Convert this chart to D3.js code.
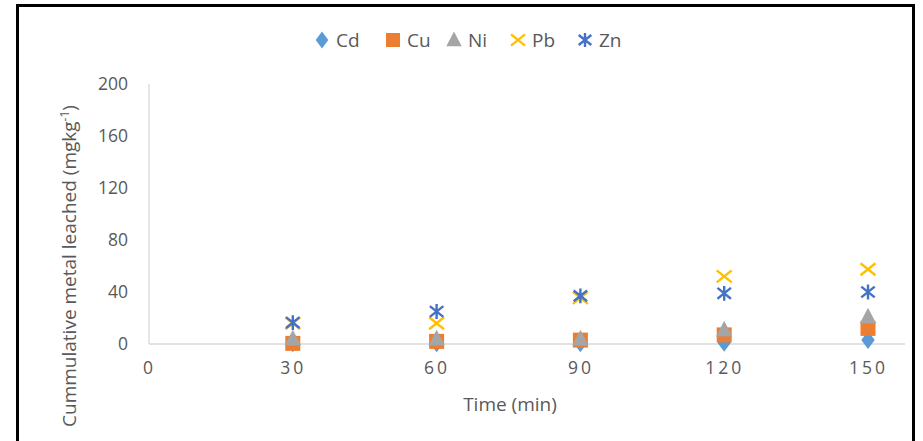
<!DOCTYPE html>
<html>
<head>
<meta charset="utf-8">
<script src="https://cdn.jsdelivr.net/npm/d3@7"></script>
<style>
  html, body { margin: 0; padding: 0; background: #fff; }
  svg { display: block; }
  text { font-family: "Open Sans", "DejaVu Sans", sans-serif; }
</style>
</head>
<body>
<svg id="chart" width="923" height="441"></svg>
<script>
// Leaching time points (min)
const times = [30, 60, 90, 120, 150];
// Cumulative metal leached (mg/kg) for each metal
const cd = [0.5, 0.5, 0.5, 1, 3];
const cu = [0.5, 2, 3, 7, 12];
const ni = [4, 4, 4, 11, 21];
const pb = [16, 16, 35.5, 52, 57.5];
const zn = [16.5, 25, 37, 39, 40];

const seriesNames = ["Cd", "Cu", "Ni", "Pb", "Zn"];
const seriesValues = [cd, cu, ni, pb, zn];
const seriesColors = ["#5B9BD5", "#ED7D31", "#A5A5A5", "#FFC000", "#4472C4"];
const xTicks = [0, 30, 60, 90, 120, 150];
const yTicks = [0, 40, 80, 120, 160, 200];

const svg = d3.select("#chart");

// Outer frame
svg.append("rect")
  .attr("x", 17.5).attr("y", 5.5)
  .attr("width", 896).attr("height", 450)
  .attr("fill", "#fff").attr("stroke", "#000").attr("stroke-width", 3);

const x = d3.scaleLinear().domain([0, 150]).range([149, 868]);
const y = d3.scaleLinear().domain([0, 200]).range([344, 84]);

// Axis lines
svg.append("line")
  .attr("x1", x(0)).attr("x2", 905)
  .attr("y1", y(0)).attr("y2", y(0))
  .attr("stroke", "#d9d9d9").attr("stroke-width", 1.3);
svg.append("line")
  .attr("x1", x(0)).attr("x2", x(0))
  .attr("y1", y(200)).attr("y2", y(0))
  .attr("stroke", "#d9d9d9").attr("stroke-width", 1.3);

// Y tick labels
const yAxis = d3.axisLeft(y).tickValues(yTicks).tickSize(0).tickPadding(0);
const gy = svg.append("g").attr("transform", "translate(128,0)").call(yAxis);
gy.select(".domain").remove();
gy.selectAll("text")
  .attr("fill", "#595959").attr("font-size", 17.5)
  .style("font-family", "'Open Sans', 'DejaVu Sans', sans-serif");

// X tick labels
const xAxis = d3.axisBottom(x).tickValues(xTicks).tickSize(0).tickPadding(0);
const gx = svg.append("g").attr("transform", "translate(0,362)").call(xAxis);
gx.select(".domain").remove();
gx.selectAll("text")
  .attr("fill", "#595959").attr("font-size", 17.5)
  .attr("letter-spacing", 3)
  .style("font-family", "'Open Sans', 'DejaVu Sans', sans-serif");

// Axis titles
svg.append("text")
  .attr("x", 510).attr("y", 411)
  .attr("text-anchor", "middle")
  .attr("fill", "#595959").attr("font-size", 19)
  .text("Time (min)");

const yTitle = svg.append("text")
  .attr("transform", "translate(76,266) rotate(-90)")
  .attr("text-anchor", "middle")
  .attr("fill", "#595959").attr("font-size", 19);
yTitle.append("tspan").text("Cummulative metal leached (mgkg");
yTitle.append("tspan").attr("font-size", 12).attr("dy", -7).text("-1");
yTitle.append("tspan").attr("dy", 7).text(")");

// Marker shapes
function drawMarker(g, i, cx, cy, s) {
  const c = seriesColors[i];
  if (i === 0) {
    g.append("path")
      .attr("d", `M${cx},${cy - s * 0.6}L${cx + s * 0.45},${cy}L${cx},${cy + s * 0.6}L${cx - s * 0.45},${cy}Z`)
      .attr("fill", c);
  } else if (i === 1) {
    g.append("rect")
      .attr("x", cx - s / 2).attr("y", cy - s / 2)
      .attr("width", s).attr("height", s).attr("fill", c);
  } else if (i === 2) {
    g.append("path")
      .attr("d", `M${cx},${cy - s * 0.6}L${cx + s * 0.55},${cy + s * 0.45}L${cx - s * 0.55},${cy + s * 0.45}Z`)
      .attr("fill", c);
  } else if (i === 3) {
    const h = s * 0.5;
    g.append("path")
      .attr("d", `M${cx - h},${cy - h * 0.8}L${cx + h},${cy + h * 0.8}M${cx + h},${cy - h * 0.8}L${cx - h},${cy + h * 0.8}`)
      .attr("stroke", c).attr("stroke-width", 2.4).attr("fill", "none");
  } else {
    const h = s * 0.45;
    g.append("path")
      .attr("d", `M${cx - h},${cy - h * 0.8}L${cx + h},${cy + h * 0.8}M${cx + h},${cy - h * 0.8}L${cx - h},${cy + h * 0.8}M${cx},${cy - h * 1.1}L${cx},${cy + h * 1.1}`)
      .attr("stroke", c).attr("stroke-width", 2.4).attr("fill", "none");
  }
}

// Data points
seriesValues.forEach((vals, i) => {
  const g = svg.append("g").attr("class", "series-" + seriesNames[i]);
  vals.forEach((v, j) => drawMarker(g, i, x(times[j]), y(v), 15));
});

// Legend
const legendX = [322, 393, 454, 518, 585];
seriesNames.forEach((name, i) => {
  const g = svg.append("g");
  drawMarker(g, i, legendX[i], 40, 14);
  g.append("text")
    .attr("x", legendX[i] + 14).attr("y", 46.5)
    .attr("fill", "#595959").attr("font-size", 19)
    .text(name);
});
</script>
</body>
</html>
